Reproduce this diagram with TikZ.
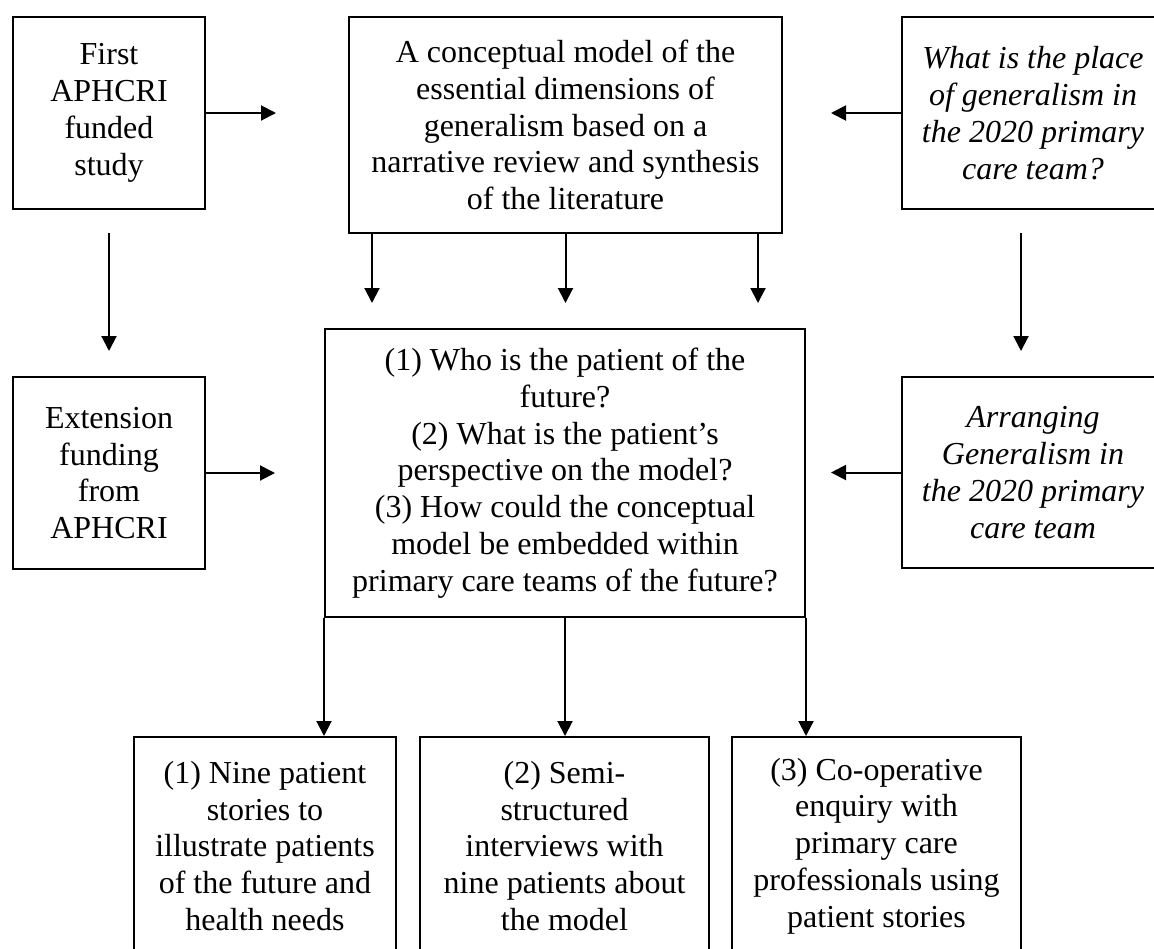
\documentclass[tikz,border=0pt]{standalone}
\usepackage{fontspec}
\setmainfont{Liberation Serif}
\usetikzlibrary{arrows.meta}
\begin{document}
\begin{tikzpicture}[x=0.5pt, y=-0.5pt,
		box/.style = {draw, line width = 1pt, align = center, inner sep = 0pt,
			font = \fontsize{16}{18.4}\selectfont},
		arr/.style = {line width = 1pt, -{Triangle[length = 7.5pt, width = 7.5pt]}}]
		\useasboundingbox (0, 0) rectangle (1154, 948);
		% top row
		\node[box, minimum width = 96pt, minimum height = 96pt] (first) at (109, 113)
			{First\\APHCRI\\funded\\study};
		\node[box, minimum width = 216.5pt, minimum height = 108pt] (model) at (565.5, 125)
			{A conceptual model of the\\essential dimensions of\\generalism based on a\\narrative review and synthesis\\of the literature};
		\node[box, minimum width = 131pt, minimum height = 96pt, font = \fontsize{16}{18.4}\selectfont\itshape] (place) at (1033, 113)
			{What is the place\\of generalism in\\the 2020 primary\\care team?};
		% middle row
		\node[box, minimum width = 96pt, minimum height = 96pt] (ext) at (109, 473)
			{Extension\\funding\\from\\APHCRI};
		\node[box, minimum width = 240pt, minimum height = 144pt] (questions) at (565, 473)
			{(1) Who is the patient of the\\future?\\(2) What is the patient’s\\perspective on the model?\\(3) How could the conceptual\\model be embedded within\\primary care teams of the future?};
		\node[box, minimum width = 131pt, minimum height = 95.5pt, font = \fontsize{16}{18.4}\selectfont\itshape] (arrange) at (1033, 472.5)
			{Arranging\\Generalism in\\the 2020 primary\\care team};
		% bottom row
		\node[box, minimum width = 131pt, minimum height = 109pt] (stories) at (265, 846)
			{(1) Nine patient\\stories to\\illustrate patients\\of the future and\\health needs};
		\node[box, minimum width = 144.5pt, minimum height = 109pt] (interviews) at (564.5, 846)
			{(2) Semi-\\structured\\interviews with\\nine patients about\\the model};
		\node[box, minimum width = 144.5pt, minimum height = 109pt] (enquiry) at (876.5, 846)
			{(3) Co-operative\\enquiry with\\primary care\\professionals using\\patient stories};
		% connectors
		\draw[arr, shorten > = 36pt] (first.east) -- (first.east -| model.west);
		\draw[arr, shorten > = 24pt] (place.west) -- (place.west -| model.east);
		\draw[arr, shorten > = 24.5pt] (ext.east) -- (ext.east -| questions.west);
		\draw[arr, shorten > = 12.5pt] (arrange.west) -- (arrange.west -| questions.east);
		\draw[arr, shorten < = 11.5pt, shorten > = 12.5pt] (first.south) -- (first.south |- ext.north);
		\draw[arr, shorten < = 11.5pt, shorten > = 12.5pt] ([xshift = -6pt]place.south) -- ([xshift = -6pt]place.south |- arrange.north);
		\foreach \a/\s in {south west/12pt, south/0pt, south east/-12.5pt}{
			\draw[arr, shorten > = 12.5pt] ([xshift = \s]model.\a) -- ([xshift = \s]model.\a |- questions.north);}
		\foreach \a in {south west, south, south east}{
			\draw[arr] (questions.\a) -- (questions.\a |- stories.north);}
\end{tikzpicture}
\end{document}
